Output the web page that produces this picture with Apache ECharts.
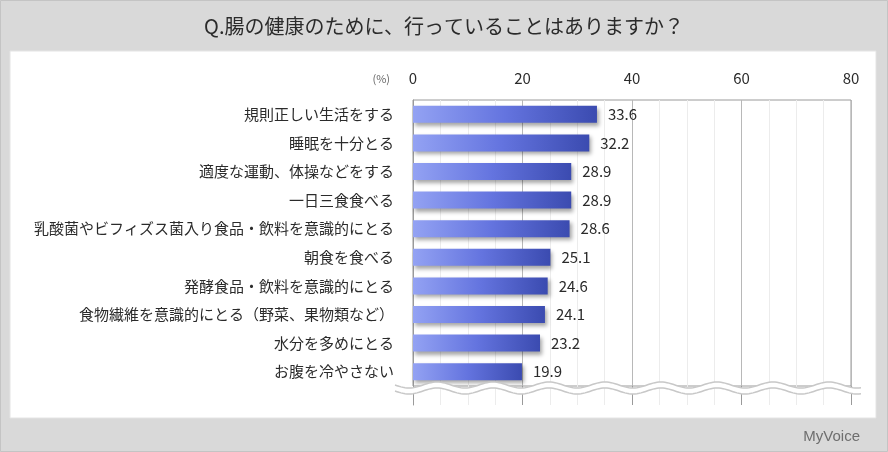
<!DOCTYPE html>
<html>
<head>
<meta charset="utf-8">
<script src="https://cdn.jsdelivr.net/npm/echarts@6/dist/echarts.min.js"></script>
<style>
  html, body { margin: 0; padding: 0; background: #d9d9d9; }
  #chart { width: 888px; height: 452px; }
</style>
</head>
<body>
<div id="chart"></div>
<script>
// ---- data ----
const titleText = 'Q.腸の健康のために、行っていることはありますか？';
const categories = [
  '規則正しい生活をする',
  '睡眠を十分とる',
  '適度な運動、体操などをする',
  '一日三食食べる',
  '乳酸菌やビフィズス菌入り食品・飲料を意識的にとる',
  '朝食を食べる',
  '発酵食品・飲料を意識的にとる',
  '食物繊維を意識的にとる（野菜、果物類など）',
  '水分を多めにとる',
  'お腹を冷やさない'
];
const values = [33.6, 32.2, 28.9, 28.9, 28.6, 25.1, 24.6, 24.1, 23.2, 19.9];
const axisMin = 0, axisMax = 80, axisStep = 20;

// ---- wave break decoration ----
const waveLeft = 395, waveRight = 862, waveY = 388, waveLen = 56, waveAmp = 3, waveGap = 3;
let upper = [], lower = [];
for (let x = waveLeft; x <= waveRight; x += 2) {
  const y = waveY + waveAmp * Math.sin(2 * Math.PI * (x - waveLeft) / waveLen);
  upper.push([x, y - waveGap]);
  lower.push([x, y + waveGap]);
}
const wavePoly = upper.concat(lower.slice().reverse());

const chart = echarts.init(document.getElementById('chart'));

const splitMajor = { show: true, lineStyle: { color: '#b8b8b8', width: 1 } };
const splitMinor = { show: true, lineStyle: { color: '#ececec', width: 1 } };

chart.setOption({
  backgroundColor: '#d9d9d9',
  textStyle: { fontFamily: '"Noto Sans CJK JP", "Noto Sans", sans-serif' },
  title: {
    text: titleText,
    left: 'center',
    top: 11,
    textStyle: { fontSize: 20, fontWeight: 'normal', color: '#2b2b2b' }
  },
  graphic: [
    { type: 'rect', z: -10, shape: { x: 0.5, y: 0.5, width: 887, height: 451 },
      style: { fill: '#d9d9d9', stroke: '#c4c4c4', lineWidth: 1 } },
    { type: 'rect', z: -9, shape: { x: 10, y: 51, width: 866, height: 367 },
      style: { fill: '#fff', stroke: '#e4e4e4', lineWidth: 1 } },
    { type: 'text', z: 5, x: 390, y: 79,
      style: { text: '(%)', fontSize: 11, fill: '#666', align: 'right', verticalAlign: 'middle',
               fontFamily: '"Noto Sans CJK JP", sans-serif' } },
    { type: 'polygon', z: 100, shape: { points: wavePoly },
      style: { fill: '#fff', stroke: null } },
    { type: 'polyline', z: 101, shape: { points: upper },
      style: { stroke: '#c8c8c8', lineWidth: 1.5, fill: null } },
    { type: 'polyline', z: 101, shape: { points: lower },
      style: { stroke: '#c8c8c8', lineWidth: 1.5, fill: null } },
    { type: 'text', z: 5, x: 860, y: 437,
      style: { text: 'MyVoice', fontSize: 15, fill: '#6e6e6e', align: 'right', verticalAlign: 'middle',
               fontFamily: '"Liberation Sans", sans-serif' } }
  ],
  grid: [
    { left: 413, top: 100, width: 438, height: 286, show: true, borderColor: '#9a9a9a', borderWidth: 1, containLabel: false },
    { left: 413, top: 386, width: 438, height: 19, show: false }
  ],
  xAxis: [
    {
      gridIndex: 0, type: 'value', position: 'top',
      min: axisMin, max: axisMax, interval: axisStep,
      axisLine: { show: false }, axisTick: { show: false },
      axisLabel: { fontSize: 15, color: '#2b2b2b', margin: 14 },
      splitLine: splitMajor,
      minorTick: { show: false, splitNumber: 4 },
      minorSplitLine: splitMinor
    },
    {
      gridIndex: 1, type: 'value', position: 'bottom',
      min: axisMin, max: axisMax, interval: axisStep,
      axisLine: { show: false }, axisTick: { show: false }, axisLabel: { show: false },
      splitLine: { show: true, lineStyle: { color: '#9a9a9a', width: 1 } },
      minorTick: { show: false, splitNumber: 4 },
      minorSplitLine: splitMinor
    }
  ],
  yAxis: [
    {
      gridIndex: 0, type: 'category', data: categories, inverse: true,
      axisLine: { show: true, lineStyle: { color: '#9a9a9a' } },
      axisTick: { show: false },
      axisLabel: { fontSize: 15, color: '#2b2b2b', margin: 19 }
    },
    {
      gridIndex: 1, type: 'value',
      axisLine: { show: true, lineStyle: { color: '#9a9a9a' } },
      axisTick: { show: false }, axisLabel: { show: false }, splitLine: { show: false }
    }
  ],
  series: [
    {
      type: 'bar', xAxisIndex: 0, yAxisIndex: 0,
      data: values,
      barWidth: 17,
      itemStyle: {
        color: new echarts.graphic.LinearGradient(0, 0, 1, 0, [
          { offset: 0, color: '#93a2f3' },
          { offset: 0.5, color: '#6474df' },
          { offset: 1, color: '#3b4bb0' }
        ]),
        shadowColor: 'rgba(0,0,0,0.35)',
        shadowBlur: 4,
        shadowOffsetX: 2,
        shadowOffsetY: 3
      },
      label: {
        show: true, position: 'right', distance: 11,
        fontSize: 15, color: '#2b2b2b',
        formatter: p => p.value.toFixed(1)
      },
      animation: false
    }
  ],
  animation: false
});
</script>
</body>
</html>
